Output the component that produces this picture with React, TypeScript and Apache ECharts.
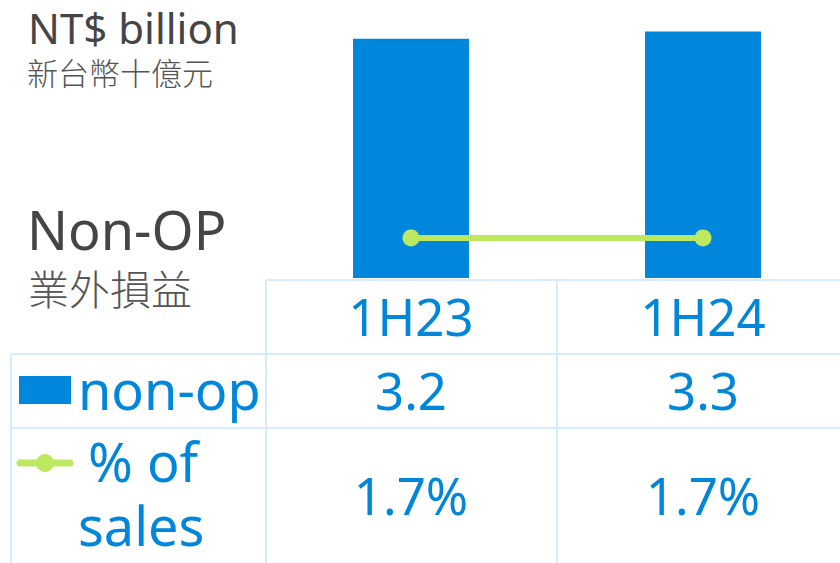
import React, { useEffect, useRef } from "react";
import * as echarts from "echarts";

const categories = ["1H23", "1H24"];
const nonOpValues = [3.2, 3.3];
const pctOfSales = [1.7, 1.7];
const unitTitle = "NT$ billion";
const unitTitleZh = "新台幣十億元";
const chartTitle = "Non-OP";
const chartTitleZh = "業外損益";
const rowBar = "non-op";
const rowLine = ["% of", "sales"];

const BLUE = "#0086da";
const GREEN = "#bce95f";
const GRID_LINE = "#d4ecfb";
const DARK = "#454545";
const FONT = "'Noto Sans', 'Noto Sans CJK TC', sans-serif";
const CJK = "'Noto Sans CJK TC', sans-serif";

const GRID_LEFT = 265;
const GRID_WIDTH = 584;
const BAND = GRID_WIDTH / categories.length;

export default function App() {
  const ref = useRef<HTMLDivElement>(null);
  useEffect(() => {
    if (!ref.current) return;
    const chart = echarts.init(ref.current, null, { renderer: "svg" });
    const W = 840;
    const H = 563;
    const lineStyle = { stroke: GRID_LINE, lineWidth: 2 };
    const hLine = (x1: number, x2: number, y: number) => ({
      type: "line",
      shape: { x1, y1: y, x2, y2: y },
      style: lineStyle,
      silent: true,
    });
    const vLine = (x: number, y1: number, y2: number) => ({
      type: "line",
      shape: { x1: x, y1, x2: x, y2 },
      style: lineStyle,
      silent: true,
    });
    const txt = (
      text: string,
      x: number,
      y: number,
      size: number,
      fill: string,
      align = "center",
      family = FONT,
      weight = "normal"
    ) => ({
      type: "text",
      x,
      y,
      style: {
        text,
        fill,
        font: `${weight} ${size}px ${family}`,
        textAlign: align,
        textVerticalAlign: "middle",
      },
      silent: true,
    });

    const graphics: any[] = [
      hLine(266, W, 280),
      hLine(11, W, 354),
      hLine(11, W, 428),
      vLine(266, 280, H),
      vLine(557, 280, H),
      vLine(11, 354, H),
      txt(unitTitle, 28, 27, 42, DARK, "left"),
      txt(unitTitleZh, 27, 71, 31, "#555555", "left", CJK, "300"),
      txt(chartTitle, 27, 229, 54, DARK, "left"),
      txt(chartTitleZh, 28, 287, 41, "#555555", "left", CJK, "300"),
      {
        type: "rect",
        shape: { x: 19, y: 376, width: 52, height: 28 },
        style: { fill: BLUE },
        silent: true,
      },
      txt(rowBar, 78, 389, 54, BLUE, "left"),
      {
        type: "line",
        shape: { x1: 20, y1: 463, x2: 70, y2: 463 },
        style: { stroke: GREEN, lineWidth: 7, lineCap: "round" },
        silent: true,
      },
      {
        type: "circle",
        shape: { cx: 45, cy: 463, r: 9 },
        style: { fill: GREEN },
        silent: true,
      },
      txt(rowLine[0], 88, 461, 54, BLUE, "left"),
      txt(rowLine[1], 78, 525, 54, BLUE, "left"),
    ];
    categories.forEach((c, i) => {
      const cx = GRID_LEFT + BAND * (i + 0.5);
      graphics.push(txt(c, cx, 316, 51, BLUE));
      graphics.push(txt(nonOpValues[i].toFixed(1), cx, 390, 51, BLUE));
      graphics.push(txt(`${pctOfSales[i].toFixed(1)}%`, cx, 495, 51, BLUE));
    });

    chart.setOption({
      animation: false,
      grid: {
        left: GRID_LEFT,
        width: GRID_WIDTH,
        top: 0,
        bottom: H - 278,
        outerBoundsMode: "none",
      },
      xAxis: {
        type: "category",
        data: categories,
        axisLine: { show: false },
        axisTick: { show: false },
        axisLabel: { show: false },
      },
      yAxis: [
        { type: "value", min: 0, max: 3.72, show: false, splitLine: { show: false } },
        { type: "value", min: 0, max: 11.8, show: false, splitLine: { show: false } },
      ],
      series: [
        {
          type: "bar",
          data: nonOpValues,
          barWidth: 116,
          itemStyle: { color: BLUE },
          yAxisIndex: 0,
        },
        {
          type: "line",
          data: pctOfSales,
          yAxisIndex: 1,
          symbol: "circle",
          symbolSize: 17,
          lineStyle: { color: GREEN, width: 6 },
          itemStyle: { color: GREEN },
        },
      ],
      graphic: graphics,
    });
    return () => chart.dispose();
  }, []);
  return (
    <div
      ref={ref}
      style={{ position: "absolute", left: 0, top: 0, width: 840, height: 563 }}
    />
  );
}
